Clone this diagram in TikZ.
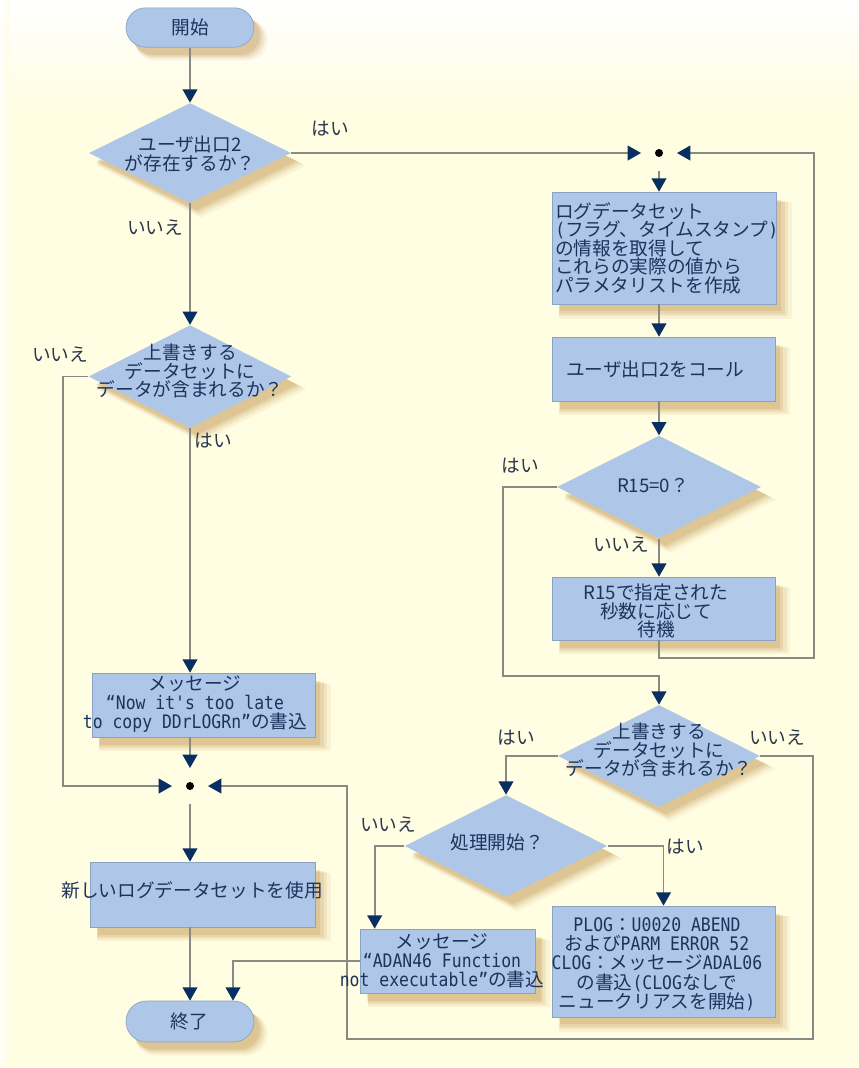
\documentclass[tikz,border=0pt]{standalone}
\usepackage{fontspec}
\setmainfont{Noto Sans CJK JP}
\newfontfamily\lat[FakeStretch=0.88]{DejaVu Sans Mono}
\usetikzlibrary{shapes.geometric,shapes.misc,arrows.meta,shadows}

\definecolor{paper}{RGB}{255,253,226}
\definecolor{boxblue}{RGB}{174,198,232}
\definecolor{boxedge}{RGB}{140,162,196}
\definecolor{ink}{RGB}{28,52,92}
\definecolor{answerink}{RGB}{45,55,75}
\definecolor{wire}{RGB}{138,138,132}
\definecolor{tip}{RGB}{8,46,98}
\definecolor{shade}{RGB}{185,135,60}

\tikzset{
  % soft warm shadow built from a few stacked, slightly spread layers
  softshadow/.style={
    general shadow={fill=shade, opacity=0.08, shadow xshift=8pt, shadow yshift=-9pt, shadow scale=1.04},
    general shadow={fill=shade, opacity=0.12, shadow xshift=7pt, shadow yshift=-8pt, shadow scale=1.02},
    general shadow={fill=shade, opacity=0.16, shadow xshift=6pt, shadow yshift=-7pt, shadow scale=1.005},
    general shadow={fill=shade, opacity=0.20, shadow xshift=5pt, shadow yshift=-6pt, shadow scale=0.99}},
  shapebase/.style={inner sep=0pt, softshadow,
    fill=boxblue, draw=boxedge, line width=0.5pt},
  procbox/.style={shapebase, rectangle},
  terminal/.style={shapebase, rounded rectangle},
  decision/.style={shapebase, diamond, draw=none},
  txt/.style={text=ink, align=center, inner sep=0pt,
              font=\fontsize{14pt}{13.6pt}\selectfont},
  msgtxt/.style={txt, font=\fontsize{14pt}{14.5pt}\selectfont},
  answer/.style={txt, text=answerink},
  junction/.style={circle, fill=black, minimum size=6pt, inner sep=0pt, outer sep=10.5pt},
  flow/.style={draw=wire, line width=1.4pt,
               -{Triangle[width=11pt,length=10pt,color=tip]}},
}

\begin{document}
\begin{tikzpicture}[x=0.75pt,y=-0.75pt]
\useasboundingbox (0,0) rectangle (859,1068);

% paper with a pale top edge
\fill[paper] (0,0) rectangle (859,1068);
\shade[top color=white, bottom color=paper] (0,0) rectangle (859,110);
\shade[left color=white, right color=paper, opacity=0.7] (0,0) rectangle (9,1068);

% ---------- left column ----------
\node[terminal, minimum width=96pt, minimum height=29.5pt] (start) at (190,27.5) {};
\node[decision, minimum width=151.5pt, minimum height=75pt] (d1) at (190,153) {};
\node[decision, minimum width=152pt, minimum height=77pt] (d2) at (190,376.5) {};
\node[procbox, minimum width=167.25pt, minimum height=48pt] (msg1) at (203.5,705) {};
\node[junction] (m2) at (190,786) {};
\node[procbox, minimum width=168.75pt, minimum height=48.75pt] (newlog) at (202.5,894.5) {};
\node[terminal, minimum width=96pt, minimum height=30.75pt] (finish) at (190,1021.5) {};

% ---------- right column ----------
\node[junction] (m1) at (659,153) {};
\node[procbox, minimum width=168pt, minimum height=84pt] (getlog) at (664,248) {};
\node[procbox, minimum width=167pt, minimum height=48pt] (call) at (663.5,369) {};
\node[decision, minimum width=153pt, minimum height=77pt] (d3) at (659,487) {};
\node[procbox, minimum width=167pt, minimum height=47.25pt] (wait) at (663.5,608.5) {};
\node[decision, minimum width=151.5pt, minimum height=76.5pt] (d4) at (659,756) {};
\node[decision, minimum width=152pt, minimum height=76.5pt] (d5) at (506,846) {};
\node[procbox, minimum width=131.25pt, minimum height=48pt] (msg2) at (447.5,961) {};
\node[procbox, minimum width=167pt, minimum height=83.25pt] (plog) at (663.5,961.5) {};

% ---------- bend points ----------
\coordinate (loopR) at (814,658);
\coordinate (yesL) at (503,676);
\coordinate (noR) at (813,1039);
\coordinate (noL) at (347,1039);
\coordinate (busL) at (63,786);

% ---------- connectors ----------
\draw[flow] (start) -- (d1);
\draw[flow] (d1) -- (d2);
\draw[flow] (d1.east) -- (m1.west);
\draw[flow] (m1) -- (getlog.north -| m1);
\draw[flow] (getlog.south -| m1) -- (call.north -| m1);
\draw[flow] (call.south -| m1) -- (d3);
\draw[flow] (d3) -- (wait.north -| d3);
\draw[flow] (wait.south -| d3) |- (loopR) |- (m1.east);
\draw[flow] (d3.west) -| (yesL) -| (d4.north);
\draw[flow] (d4.west) -| (d5.north);
\draw[flow] (d4.east) -| (noR) -- (noL) |- (m2.east);
\draw[flow] (d5.west) -| ([xshift=11.25pt]msg2.north west);
\draw[flow] (d5.east) -| (plog.north);
\draw[flow] (msg2.west) -| ([xshift=32.25pt]finish.north);
\draw[flow] (d2.west) -| (busL) -- (m2.west);
\draw[flow] (d2) -- (msg1.north -| d2);
\draw[flow] (msg1.south -| m2) -- (m2);
\draw[flow] (m2) -- (newlog.north -| m2);
\draw[flow] (newlog.south -| m2) -- (finish);

% ---------- texts ----------
\node[txt] (start-t) at (190,27) {開始};
\node[txt] (d1-t) at (190,154) {ユーザ出口2\\が存在するか？};
\node[txt] (d2-t) at (190,371) {上書きする\\データセットに\\データが含まれるか？};
\node[msgtxt] (msg1-t) at (195,704) {メッセージ\\{\lat “Now it's too late}\\{\lat to copy DDrLOGRn”}の書込};
\node[txt] (newlog-t) at (192,890) {新しいログデータセットを使用};
\node[txt] (finish-t) at (189,1021) {終了};

\node[txt, anchor=west, align=left] (getlog-t) at (555,248)
  {ログデータセット\\{\lat (}フラグ、タイムスタンプ{\lat )}\\の情報を取得して\\これらの実際の値から\\パラメタリストを作成};
\node[txt, anchor=west, align=left] (call-t) at (566,369) {ユーザ出口2をコール};
\node[txt] (d3-t) at (653,486) {R15=0？};
\node[txt] (wait-t) at (656,611) {R15で指定された\\秒数に応じて\\待機};
\node[txt] (d4-t) at (659,750) {上書きする\\データセットに\\データが含まれるか？};
\node[txt] (d5-t) at (497,842) {処理開始？};
\node[msgtxt] (msg2-t) at (442,961) {メッセージ\\{\lat “ADAN46 Function}\\{\lat not executable”}の書込};
\node[msgtxt] (plog-t) at (657,964)
  {{\lat PLOG}：{\lat U0020 ABEND}\\および{\lat PARM ERROR 52}\\{\lat CLOG}：メッセージ{\lat ADAL06}\\の書込{\lat (CLOG}なしで\\ニュークリアスを開始{\lat )}};

% ---------- branch answers ----------
\node[answer] (d1-yes) at (330,129) {はい};
\node[answer] (d1-no) at (155,228) {いいえ};
\node[answer] (d2-no) at (60,355) {いいえ};
\node[answer] (d2-yes) at (213,441) {はい};
\node[answer] (d3-yes) at (520,466) {はい};
\node[answer] (d3-no) at (621,545) {いいえ};
\node[answer] (d4-yes) at (516,738) {はい};
\node[answer] (d4-no) at (777,738) {いいえ};
\node[answer] (d5-no) at (388,825) {いいえ};
\node[answer] (d5-yes) at (685,847) {はい};
\end{tikzpicture}
\end{document}
